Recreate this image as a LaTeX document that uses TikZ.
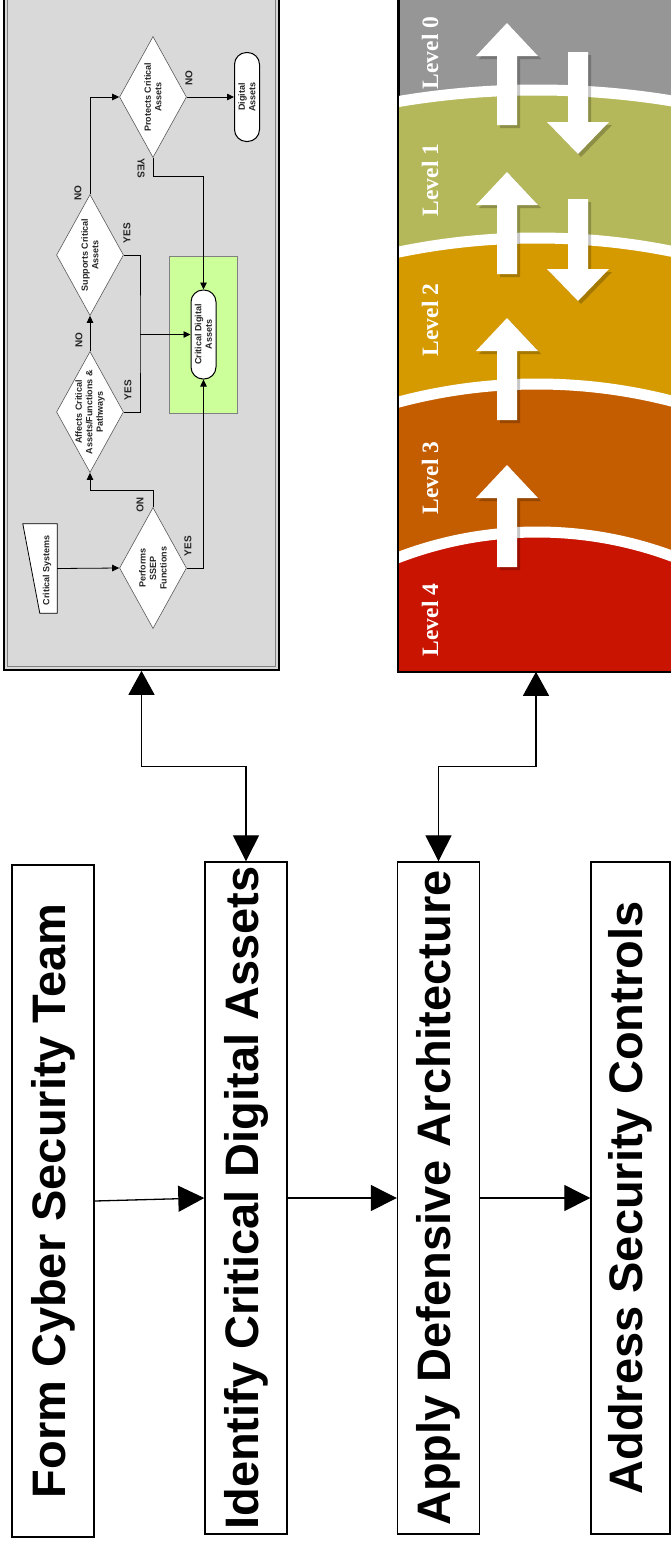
\documentclass[tikz,border=0pt]{standalone}
\usepackage{fontspec}
\setmainfont{Liberation Sans}
\newfontfamily\lvlfont{Liberation Serif}
\usetikzlibrary{arrows.meta,shapes.geometric}
\definecolor{panelgray}{RGB}{217,217,217}
\definecolor{lgreen}{RGB}{204,255,153}
\definecolor{lv0}{RGB}{150,150,150}
\definecolor{lv1}{RGB}{181,184,90}
\definecolor{lv2}{RGB}{212,154,0}
\definecolor{lv3}{RGB}{196,92,0}
\definecolor{lv4}{RGB}{200,20,0}
\begin{document}
\begin{tikzpicture}[x=1pt,y=-1pt,
  mbox/.style={draw, line width=1.4pt, fill=white, minimum width=82pt, minimum height=672pt, inner sep=0pt},
  mtext/.style={rotate=90, font=\fontsize{47pt}{50pt}\selectfont\bfseries, inner sep=0pt},
  dia/.style={diamond, draw=gray!70!black, fill=white, line width=0.6pt, inner sep=0pt, minimum width=67pt, minimum height=121pt},
  term/.style={draw=black, line width=1pt, fill=white, rounded corners=12pt, minimum width=25pt, minimum height=89pt, inner sep=0pt},
  ftext/.style={rotate=90, align=center, font=\fontsize{9pt}{10.5pt}\selectfont\bfseries, text=black!85, inner sep=0pt},
  yn/.style={rotate=90, font=\fontsize{10pt}{11pt}\selectfont\bfseries, text=black!85, inner sep=0pt},
  yndown/.style={rotate=-90, font=\fontsize{10pt}{11pt}\selectfont\bfseries, text=black!85, inner sep=0pt},
  fa/.style={line width=0.8pt, -{Triangle[length=7pt,width=6.5pt]}},
  fl/.style={line width=0.8pt},
  lvl/.style={rotate=90, text=white, font=\lvlfont\bfseries\fontsize{23.5pt}{25pt}\selectfont, inner sep=0pt},
  big/.style={line width=1.3pt, -{Triangle[length=26pt,width=26pt]}},
  bigboth/.style={line width=1.3pt, {Triangle[length=24pt,width=26pt]}-{Triangle[length=26pt,width=26pt]}},
  uparrow/.pic={
    \fill[black, opacity=0.22, shift={(3,3)}] (-10,102) -- (-10,33) -- (-31,33) -- (0,0) -- (31,33) -- (10,33) -- (10,102) -- cycle;
    \fill[white] (-10,102) -- (-10,33) -- (-31,33) -- (0,0) -- (31,33) -- (10,33) -- (10,102) -- cycle;
  },
  downarrow/.pic={
    \fill[black, opacity=0.22, shift={(3,3)}] (-10,-102) -- (10,-102) -- (10,-32) -- (31,-32) -- (0,0) -- (-31,-32) -- (-10,-32) -- cycle;
    \fill[white] (-10,-102) -- (10,-102) -- (10,-32) -- (31,-32) -- (0,0) -- (-31,-32) -- (-10,-32) -- cycle;
  }
]
\useasboundingbox (0,0) rectangle (671,1543);
\clip (0,0) rectangle (671,1543);
\fill[white] (0,0) rectangle (671,1543);

% ---------- flowchart panel ----------
\node[draw=black, line width=1.6pt, fill=panelgray, minimum width=275pt, minimum height=690pt, inner sep=0pt] (fcp) at (141.5,325) {};
\draw[gray, line width=0.7pt] (7.5,-20) rectangle (275.5,666.5);

\node[draw=gray, fill=lgreen, line width=0.6pt, minimum width=68pt, minimum height=157pt, inner sep=0pt] (grn) at (203,334.5) {};

\node[minimum width=34pt, minimum height=89pt, inner sep=0pt] (cs) at (40,568.5) {};
\filldraw[fill=white, draw=black, line width=0.8pt] (cs.north west) -- (cs.north east) -- (cs.south east) -- ([xshift=17pt]cs.south west) -- cycle;
\node[ftext] at (47,570) {Critical Systems};

\node[dia] (perf) at (153,568) {};
\node[ftext] at (perf) {Performs\\SSEP\\Functions};
\node[dia] (aff) at (90,412) {};
\node[ftext] at (aff) {Affects Critical\\Assets/Functions \&\\Pathways};
\node[dia] (sup) at (90,255) {};
\node[ftext] at (sup) {Supports Critical\\Assets};
\node[dia] (prot) at (153,97) {};
\node[ftext] at (prot) {Protects Critical\\Assets};

\node[term] (da) at (247,97) {};
\node[ftext] at (da) {Digital\\Assets};
\node[term] (cda) at (203.5,334.5) {};
\node[ftext] at (cda) {Critical Digital\\Assets};

\coordinate (j) at (140,334.5);
\draw[fa] (cs.east) -- (perf.west);
\draw[fa] (perf.north) -- ++(0,-17) -| (aff.south);
\draw[fa] (perf.east) -| (cda.south);
\draw[fa] (aff.north) -- (sup.south);
\draw[fl] (aff.east) -| (j) |- (sup.east);
\draw[fa] (j) -- (cda.west);
\draw[fa] (sup.north) |- (prot.west);
\draw[fa] (prot.east) -- (da.west);
\draw[fa] (prot.south) -- ++(0,19) -| (cda.north);

\node[yndown] at (140,505) {NO};
\node[yn] at (188,546) {YES};
\node[yn] at (79,340) {NO};
\node[yn] at (128,390) {YES};
\node[yn] at (127,233) {YES};
\node[yn] at (78,193) {NO};
\node[yn] at (189,78) {NO};
\node[yndown] at (141,168) {YES};

% ---------- levels panel ----------
\node[draw=black, line width=1.6pt, fill=lv0, minimum width=274pt, minimum height=691pt, inner sep=0pt] (lvp) at (536,325.5) {};
\begin{scope}
  \clip (399,-20) rectangle (673,671);
  \filldraw[fill=lv1, draw=white, line width=11pt] (537,920) circle[radius=830pt];
  \filldraw[fill=lv2, draw=white, line width=11pt] (537,920) circle[radius=682pt];
  \filldraw[fill=lv3, draw=white, line width=11pt] (537,920) circle[radius=536pt];
  \filldraw[fill=lv4, draw=white, line width=11pt] (537,920) circle[radius=388pt];
\end{scope}
\draw[line width=1.6pt] (lvp.north west) rectangle (lvp.south east);

\pic at (507,23) {uparrow};
\pic at (578,154) {downarrow};
\pic at (507,172) {uparrow};
\pic at (578,301) {downarrow};
\pic at (507,318) {uparrow};
\pic at (507,465) {uparrow};

\node[lvl] at (430,53) {Level 0};
\node[lvl] at (430,180) {Level 1};
\node[lvl] at (430,320) {Level 2};
\node[lvl] at (430,478) {Level 3};
\node[lvl] at (430,620) {Level 4};

% ---------- main steps ----------
\node[mbox] (b1) at (53,1201) {};
\node[mtext] at (b1) {Form Cyber Security Team};
\node[mbox] (b2) at (246,1198) {};
\node[mtext] at (b2) {Identify Critical Digital Assets};
\node[mbox] (b3) at (438.5,1198) {};
\node[mtext] at (b3) {Apply Defensive Architecture};
\node[mbox, minimum width=79pt] (b4) at (630.5,1198) {};
\node[mtext] at (b4) {Address Security Controls};

\draw[big] (b1.east) -- (b2.west);
\draw[big] (b2.east) -- (b3.west);
\draw[big] (b3.east) -- (b4.west);
\draw[bigboth] (fcp.south) -- ++(0,96) -| (b2.north);
\draw[bigboth] (lvp.south) -- ++(0,95) -| (b3.north);
\end{tikzpicture}
\end{document}
